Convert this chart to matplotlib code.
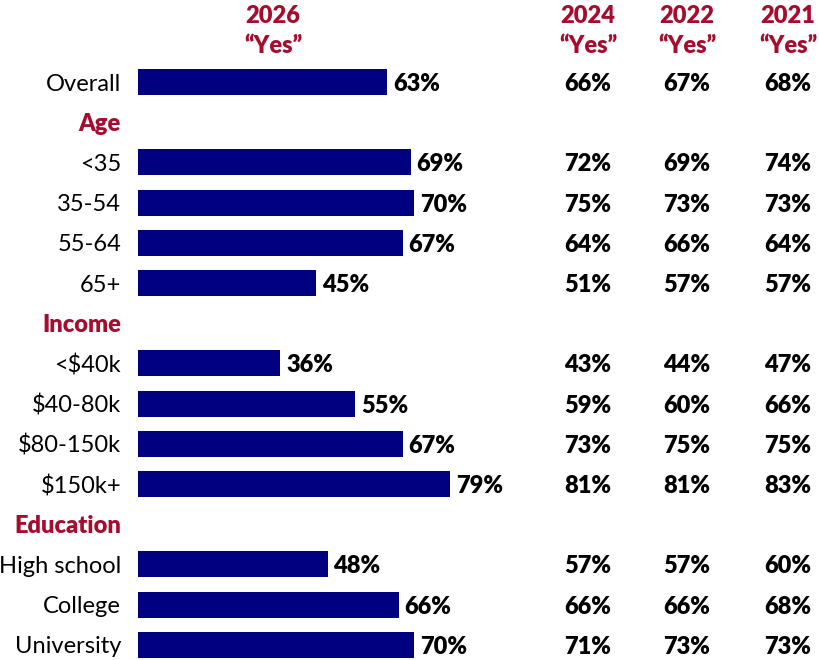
import matplotlib
matplotlib.use("Agg")
import matplotlib.pyplot as plt
import matplotlib.transforms as mtransforms

plt.rcParams['font.family'] = ['Lato', 'DejaVu Sans']

# rows: None value means section header
rows = ["Overall", "Age", "<35", "35-54", "55-64", "65+",
        "Income", "<$40k", "$40-80k", "$80-150k", "$150k+",
        "Education", "High school", "College", "University"]
headers = ["Age", "Income", "Education"]

groups = ["Overall", "<35", "35-54", "55-64", "65+", "<$40k", "$40-80k",
          "$80-150k", "$150k+", "High school", "College", "University"]
yes_2026 = [63, 69, 70, 67, 45, 36, 55, 67, 79, 48, 66, 70]
yes_2024 = [66, 72, 75, 64, 51, 43, 59, 73, 81, 57, 66, 71]
yes_2022 = [67, 69, 73, 66, 57, 44, 60, 75, 81, 57, 66, 73]
yes_2021 = [68, 74, 73, 64, 57, 47, 66, 75, 83, 60, 68, 73]

W, H = 820, 660
navy = "#000080"
red = "#A50C2E"
fs = 17
dy = 0.05  # nudge text down a little to sit on bar centres

fig = plt.figure(figsize=(W / 100, H / 100), dpi=100)
ax = fig.add_axes([138 / W, 0, 1 - 138 / W, 1])
ax.set_xlim(0, (W - 138) / 3.95)
step = 40.2
ax.set_ylim((H - 82) / step, -82 / step)
ax.axis("off")

ypos = {name: i for i, name in enumerate(rows)}
ys = [ypos[g] for g in groups]
ax.barh(ys, yes_2026, height=0.65, color=navy)

lab_tr = mtransforms.blended_transform_factory(fig.transFigure, ax.transData)
for name, i in ypos.items():
    if name in headers:
        ax.text(121 / W, i + dy, name, transform=lab_tr, ha="right", va="center",
                fontsize=fs, fontweight="heavy", color=red)
    else:
        ax.text(121 / W, i + dy, name, transform=lab_tr, ha="right", va="center",
                fontsize=fs, color="black")

for y, v in zip(ys, yes_2026):
    ax.text(v + 1.5, y + dy, f"{v}%", ha="left", va="center", fontsize=fs,
            fontweight="heavy", color="black")

cols = [(588, yes_2024), (687, yes_2022), (788, yes_2021)]
for cx, vals in cols:
    for y, v in zip(ys, vals):
        ax.text(cx / W, y + dy, f"{v}%", transform=lab_tr, ha="center", va="center",
                fontsize=fs, fontweight="heavy", color="black")

for cx, yr in [(273, "2026"), (588, "2024"), (687, "2022"), (788, "2021")]:
    fig.text(cx / W, 1 - 16 / H, yr, ha="center", va="center", fontsize=fs,
             fontweight="heavy", color=red)
    fig.text(cx / W, 1 - 46 / H, "\u201cYes\u201d", ha="center", va="center",
             fontsize=fs, fontweight="heavy", color=red)

fig.savefig("out.png", dpi=100)
